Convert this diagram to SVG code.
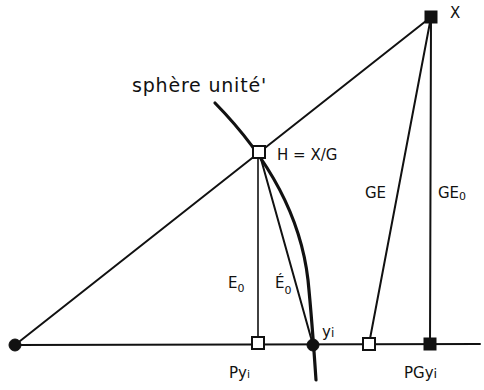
<svg xmlns="http://www.w3.org/2000/svg" width="484" height="390" viewBox="0 0 484 390">
<style>
.ln{stroke:#111;stroke-width:2;fill:none;stroke-linecap:round}
.thin{stroke:#111;stroke-width:1.6;fill:none}
.arc{stroke:#111;stroke-width:3.2;fill:none;stroke-linecap:round}
.open{fill:#fff;stroke:#111;stroke-width:2}
.fill{fill:#111;stroke:#111;stroke-width:1}
text{font-family:"DejaVu Sans","Liberation Sans",sans-serif;fill:#111}
.lbl{font-size:15px}
.sub{font-size:11px}
</style>
<rect width="484" height="390" fill="#fff"/>
<g id="connectors">
<line class="ln" x1="15" y1="345" x2="480" y2="344"/>
<line class="ln" x1="15" y1="345" x2="431" y2="17"/>
<line class="thin" x1="258" y1="152" x2="258" y2="343"/>
<line class="ln" x1="259" y1="152" x2="313" y2="345"/>
<line class="ln" x1="369" y1="344" x2="431" y2="17"/>
<line class="ln" x1="431" y1="17" x2="430" y2="344"/>
<path class="arc" d="M215,103 C263,152 300,210 308,280 C312,320 314,350 316,380"/>
</g>
<g id="label-sphere"><text x="132" y="92" font-size="19" letter-spacing="0.8">sphère unité'</text></g>
<g id="node-O"><circle class="fill" cx="15" cy="345" r="6"/></g>
<g id="node-X"><rect class="fill" x="425" y="11" width="12" height="12"/><text class="lbl" x="450" y="18" font-size="16">X</text></g>
<g id="node-H"><rect class="open" x="253" y="146" width="12" height="12"/><text class="lbl" x="277" y="160" font-size="16">H = X/G</text></g>
<g id="node-Py"><rect class="open" x="252" y="337" width="12" height="12"/><text class="lbl" x="229" y="378" font-size="17">Py<tspan class="sub" font-size="13">i</tspan></text></g>
<g id="node-yi"><circle class="fill" cx="313" cy="345" r="6"/><text class="lbl" x="322" y="337" font-size="16">y<tspan font-size="12">i</tspan></text></g>
<g id="node-G"><rect class="open" x="363" y="338" width="12" height="12"/></g>
<g id="node-PGyi"><rect class="fill" x="424" y="338" width="12" height="12"/><text class="lbl" x="404" y="378" font-size="17">PGy<tspan font-size="13">i</tspan></text></g>
<g id="labels">
<text class="lbl" x="228" y="288">E<tspan class="sub" dy="4">0</tspan></text>
<text class="lbl" x="275" y="288">É<tspan class="sub" dy="6">0</tspan></text>
<text class="lbl" x="365" y="198">GE</text>
<text class="lbl" x="438" y="198">GE<tspan class="sub" dy="2">0</tspan></text>
</g>
</svg>
